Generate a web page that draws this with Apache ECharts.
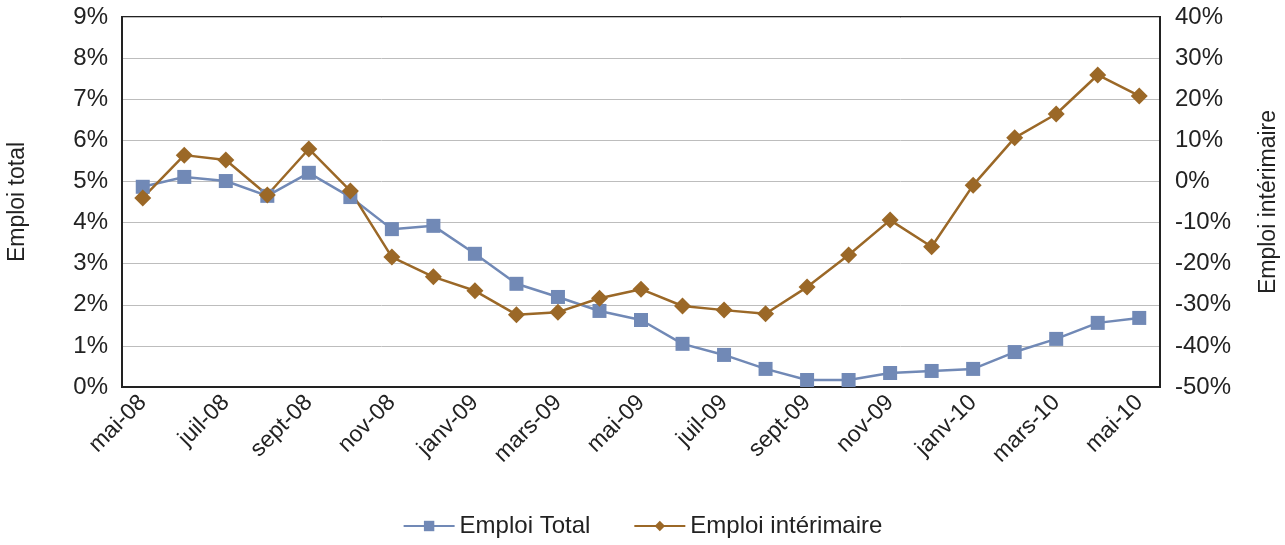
<!DOCTYPE html>
<html>
<head>
<meta charset="utf-8">
<script src="https://cdn.jsdelivr.net/npm/echarts@6/dist/echarts.min.js"></script>
<style>
  html, body { margin: 0; padding: 0; background: #fff; }
  #chart { width: 1285px; height: 545px; }
</style>
</head>
<body>
<div id="chart"></div>
<script>
var months = ['mai-08', 'juin-08', 'juil-08', 'août-08', 'sept-08', 'oct-08', 'nov-08', 'déc-08',
              'janv-09', 'févr-09', 'mars-09', 'avr-09', 'mai-09', 'juin-09', 'juil-09', 'août-09',
              'sept-09', 'oct-09', 'nov-09', 'déc-09', 'janv-10', 'févr-10', 'mars-10', 'avr-10', 'mai-10'];

// Emploi Total, % (left axis)
var emploiTotal = [4.87, 5.11, 5.01, 4.65, 5.21, 4.62, 3.84, 3.92, 3.24, 2.51, 2.19, 1.85, 1.63,
                   1.05, 0.78, 0.44, 0.17, 0.17, 0.34, 0.39, 0.44, 0.85, 1.17, 1.56, 1.68];

// Emploi intérimaire, % (right axis)
var emploiInterim = [-4.0, 6.4, 5.2, -3.3, 7.9, -2.3, -18.4, -23.2, -26.6, -32.4, -31.8, -28.4, -26.2,
                     -30.3, -31.3, -32.2, -25.7, -17.9, -9.4, -15.9, -0.9, 10.6, 16.4, 25.9, 20.8];

var blue  = '#7189b6';
var brown = '#9b6827';
var font  = 'Liberation Sans, Arial, sans-serif';

var chart = echarts.init(document.getElementById('chart'));
var option = {
    animation: false,
    textStyle: { fontFamily: font },
    grid: {
        left: 122,
        right: 125,
        top: 17,
        bottom: 158,
        outerBoundsMode: 'none',
        containLabel: false,
        show: true,
        borderColor: '#222',
        borderWidth: 2
    },
    legend: {
        bottom: 2,
        left: 'center',
        itemWidth: 51,
        itemHeight: 13,
        itemGap: 43,
        textStyle: { fontSize: 24, color: '#222', fontFamily: font },
        data: ['Emploi Total', 'Emploi intérimaire']
    },
    xAxis: {
        type: 'category',
        data: months,
        boundaryGap: true,
        axisLine: { show: true, lineStyle: { color: '#222', width: 2 } },
        axisTick: { show: false },
        axisLabel: {
            interval: 1,
            rotate: 45,
            fontSize: 23,
            color: '#222',
            margin: 12
        }
    },
    yAxis: [
        {
            type: 'value',
            min: 0,
            max: 9,
            interval: 1,
            name: 'Emploi total',
            nameLocation: 'middle',
            nameRotate: 90,
            nameGap: 93,
            nameTextStyle: { fontSize: 23, color: '#222' },
            axisLine: { show: true, lineStyle: { color: '#222', width: 2 } },
            axisTick: { show: false },
            axisLabel: { fontSize: 24, color: '#222', margin: 14, formatter: '{value}%' },
            splitLine: { lineStyle: { color: '#bdbdbd', width: 1 } }
        },
        {
            type: 'value',
            min: -50,
            max: 40,
            interval: 10,
            name: 'Emploi intérimaire',
            nameLocation: 'middle',
            nameRotate: 90,
            nameGap: 97,
            nameTextStyle: { fontSize: 23, color: '#222' },
            axisLine: { show: true, lineStyle: { color: '#222', width: 2 } },
            axisTick: { show: false },
            axisLabel: { fontSize: 24, color: '#222', margin: 15, formatter: '{value}%' },
            splitLine: { show: false }
        }
    ],
    series: [
        {
            name: 'Emploi Total',
            type: 'line',
            yAxisIndex: 0,
            data: emploiTotal,
            color: blue,
            symbol: 'rect',
            symbolSize: 14,
            lineStyle: { width: 2.5, color: blue },
            itemStyle: { color: blue }
        },
        {
            name: 'Emploi intérimaire',
            type: 'line',
            yAxisIndex: 1,
            data: emploiInterim,
            color: brown,
            symbol: 'diamond',
            symbolSize: 17,
            lineStyle: { width: 2.5, color: brown },
            itemStyle: { color: brown }
        }
    ]
};
chart.setOption(option);
</script>
</body>
</html>
